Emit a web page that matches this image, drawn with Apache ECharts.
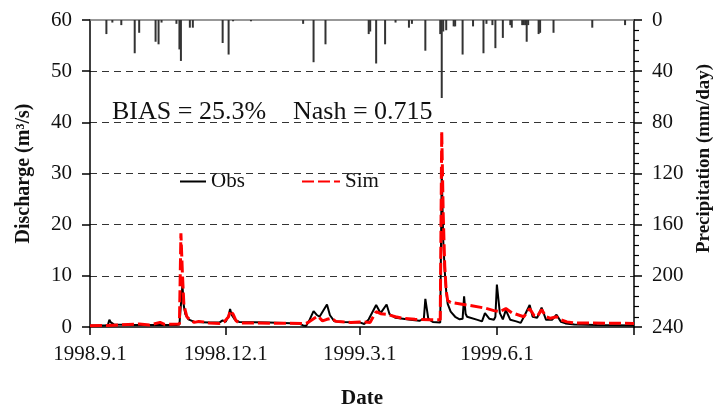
<!DOCTYPE html>
<html>
<head>
<meta charset="utf-8">
<script src="https://cdn.jsdelivr.net/npm/echarts@6/dist/echarts.min.js"></script>
<style>
html,body{margin:0;padding:0;background:#fff;}
#c{width:719px;height:410px;}
</style>
</head>
<body>
<div id="c"></div>
<script>
// ---- data ----
const xTickDates = ['1998-09-01','1998-12-01','1999-03-01','1999-06-01','1999-09-01'];
const xLabelDates = ['1998-09-01','1998-12-01','1999-03-01','1999-06-01'];

const obs = [
 ['1998-09-01',0.3],['1998-09-11',0.3],['1998-09-13',0.4],['1998-09-14',1.4],['1998-09-15',0.9],
 ['1998-09-17',0.5],['1998-10-01',0.4],['1998-10-16',0.4],['1998-10-29',0.4],['1998-10-31',0.5],
 ['1998-11-01',0.6],['1998-11-02',8.2],['1998-11-03',4.0],['1998-11-04',2.5],['1998-11-06',1.5],
 ['1998-11-10',1.0],['1998-11-20',0.9],['1998-11-27',0.9],['1998-11-29',1.3],['1998-12-01',1.0],
 ['1998-12-03',2.2],['1998-12-04',3.5],['1998-12-05',2.4],['1998-12-07',1.5],['1998-12-10',1.0],
 ['1998-12-30',0.9],['1999-01-19',0.7],['1999-01-22',0.3],['1999-01-24',0.2],['1999-01-26',1.2],
 ['1999-01-29',3.1],['1999-01-31',2.4],['1999-02-02',2.0],['1999-02-07',4.4],['1999-02-09',2.3],
 ['1999-02-12',1.1],['1999-02-18',1.0],['1999-03-01',0.9],['1999-03-04',0.6],['1999-03-07',1.5],
 ['1999-03-12',4.3],['1999-03-15',2.7],['1999-03-19',4.4],['1999-03-21',2.5],['1999-03-25',1.8],
 ['1999-04-04',1.4],['1999-04-10',1.2],['1999-04-13',1.6],['1999-04-14',5.5],['1999-04-16',1.6],
 ['1999-04-19',1.0],['1999-04-24',0.9],['1999-04-25',30.5],['1999-04-26',17],['1999-04-27',11],
 ['1999-04-28',7],['1999-04-29',4.5],['1999-05-01',3.0],['1999-05-04',2.0],['1999-05-07',1.5],
 ['1999-05-09',1.6],['1999-05-10',6.0],['1999-05-11',2.6],['1999-05-12',2.0],['1999-05-19',1.4],
 ['1999-05-22',1.1],['1999-05-24',2.7],['1999-05-27',1.6],['1999-05-30',1.4],['1999-05-31',2.0],
 ['1999-06-01',8.3],['1999-06-03',2.7],['1999-06-05',1.5],['1999-06-07',3.3],['1999-06-10',1.4],
 ['1999-06-14',1.1],['1999-06-17',0.8],['1999-06-20',2.5],['1999-06-23',4.3],['1999-06-25',2.0],
 ['1999-06-28',1.8],['1999-07-01',3.8],['1999-07-04',1.4],['1999-07-08',1.4],['1999-07-11',2.4],
 ['1999-07-14',1.0],['1999-07-17',0.7],['1999-07-23',0.5],['1999-08-07',0.4],['1999-09-01',0.3]
];

const sim = [
 ['1998-09-01',0.25],['1998-09-13',0.3],['1998-10-04',0.6],['1998-10-11',0.4],['1998-10-18',0.9],
 ['1998-10-21',0.5],['1998-10-31',0.6],['1998-11-01',18.3],['1998-11-02',10.5],['1998-11-03',4.3],
 ['1998-11-05',2.0],['1998-11-07',1.4],['1998-11-10',0.9],['1998-11-13',1.1],['1998-11-16',1.0],
 ['1998-11-20',0.8],['1998-11-27',0.7],['1998-11-30',1.0],['1998-12-03',2.0],['1998-12-04',3.2],
 ['1998-12-06',2.5],['1998-12-08',1.2],['1998-12-10',0.8],['1999-01-24',0.7],['1999-01-26',1.0],
 ['1999-01-30',1.8],['1999-02-01',2.1],['1999-02-04',1.2],['1999-02-07',1.5],['1999-02-10',1.7],
 ['1999-02-13',1.1],['1999-02-23',0.9],['1999-03-01',1.0],['1999-03-08',0.9],['1999-03-10',2.0],
 ['1999-03-12',3.0],['1999-03-15',2.6],['1999-03-19',2.5],['1999-03-25',2.0],['1999-03-30',1.7],
 ['1999-04-07',1.5],['1999-04-17',1.4],['1999-04-24',1.4],['1999-04-25',38.2],['1999-04-26',22],
 ['1999-04-27',12],['1999-04-28',7],['1999-04-29',5.2],['1999-05-01',4.8],['1999-05-14',4.2],
 ['1999-05-24',3.7],['1999-05-30',3.2],['1999-06-03',3.0],['1999-06-07',3.6],['1999-06-11',2.8],
 ['1999-06-16',2.3],['1999-06-19',2.0],['1999-06-23',3.6],['1999-06-26',2.2],['1999-06-28',2.0],
 ['1999-07-01',3.4],['1999-07-04',2.0],['1999-07-07',1.7],['1999-07-11',2.0],['1999-07-14',1.4],
 ['1999-07-18',1.0],['1999-07-23',0.8],['1999-09-01',0.7]
];

const precip = [
 ['1998-09-12',11],['1998-09-16',2],['1998-09-22',4],['1998-10-01',26],['1998-10-04',10],
 ['1998-10-15',17],['1998-10-17',19],['1998-10-19',2],['1998-10-29',3],['1998-10-31',23],
 ['1998-11-01',32],['1998-11-07',6],['1998-11-09',6],['1998-11-29',18],['1998-12-03',27],
 ['1998-12-06',1],['1998-12-18',1],['1999-01-22',3],['1999-01-29',33],['1999-02-06',19],
 ['1999-03-07',11],['1999-03-08',9],['1999-03-12',34],['1999-03-18',19],['1999-03-25',2],
 ['1999-04-03',6],['1999-04-05',3],['1999-04-14',24],['1999-04-24',11],['1999-04-25',61],
 ['1999-04-26',9],['1999-04-28',8],['1999-05-03',5],['1999-05-04',5],['1999-05-09',27],
 ['1999-05-16',5],['1999-05-23',26],['1999-05-25',3],['1999-05-29',4],['1999-05-31',22],
 ['1999-06-05',14],['1999-06-10',4],['1999-06-11',6],['1999-06-18',4],['1999-06-19',4],
 ['1999-06-20',4],['1999-06-21',17],['1999-06-22',4],['1999-06-29',11],['1999-06-30',10],
 ['1999-07-09',10],['1999-08-04',6],['1999-08-26',4]
];

const statsBias = 'BIAS = 25.3%';
const statsNash = 'Nash = 0.715';

// ---- helpers ----
function ts(s){ const p = s.split('-').map(Number); return new Date(p[0], p[1]-1, p[2]).getTime(); }
function toPts(arr){ return arr.map(d => [ts(d[0]), d[1]]); }
function fmt(v){ const d = new Date(v); return d.getFullYear() + '.' + (d.getMonth()+1) + '.' + d.getDate(); }

const FONT = "'Liberation Serif','Times New Roman',serif";
const TXT = '#111';
const xMin = ts(xTickDates[0]);
const xMax = ts(xTickDates[xTickDates.length-1]);
const legendText = {fontFamily: FONT, fontSize: 21, color: TXT};

const chart = echarts.init(document.getElementById('c'), null, {renderer:'canvas'});
chart.setOption({
  animation: false,
  backgroundColor: '#fff',
  grid: {left: 90, right: 85, top: 20, bottom: 83, containLabel: false, outerBoundsMode: 'none'},
  legend: [{
    data: ['Obs'], left: 174, top: 166, itemWidth: 26, itemHeight: 14,
    itemStyle: {opacity: 0}, textStyle: legendText
  },{
    data: ['Sim'], left: 296, top: 166, itemWidth: 38, itemHeight: 14,
    itemStyle: {opacity: 0}, textStyle: legendText
  }],
  xAxis: [{
    type: 'value', min: xMin, max: xMax,
    name: 'Date', nameLocation: 'middle', nameGap: 61,
    nameTextStyle: {fontFamily: FONT, fontSize: 21, fontWeight: 'bold', color: TXT},
    axisLine: {lineStyle: {color: '#000', width: 1.5}},
    axisTick: {show: true, length: 8, lineStyle: {color: '#000', width: 1.5}, customValues: xTickDates.map(ts)},
    axisLabel: {fontFamily: FONT, fontSize: 21, color: TXT, margin: 17, formatter: fmt, customValues: xLabelDates.map(ts)},
    splitLine: {show: false}
  },{
    type: 'value', position: 'top', min: xMin, max: xMax,
    axisLine: {show: true, lineStyle: {color: '#777', width: 1.5}},
    axisTick: {show: false}, axisLabel: {show: false}, splitLine: {show: false}
  }],
  yAxis: [{
    type: 'value', min: 0, max: 60, interval: 10,
    name: 'Discharge (m³/s)', nameLocation: 'middle', nameGap: 56,
    nameTextStyle: {fontFamily: FONT, fontSize: 20, fontWeight: 'bold', color: TXT},
    axisLine: {show: true, lineStyle: {color: '#000', width: 1.5}},
    axisTick: {show: true, length: 8, lineStyle: {color: '#000', width: 1.5}},
    axisLabel: {fontFamily: FONT, fontSize: 21, color: TXT, margin: 18},
    splitLine: {show: true, showMinLine: false, showMaxLine: false,
      lineStyle: {color: '#333', width: 1.2, type: [7,5]}}
  },{
    type: 'value', min: 0, max: 240, interval: 40, inverse: true, position: 'right',
    name: 'Precipitation (mm/day)', nameLocation: 'middle', nameGap: 58,
    nameTextStyle: {fontFamily: FONT, fontSize: 19, fontWeight: 'bold', color: TXT, padding: [0,0,0,30]},
    axisLine: {show: true, lineStyle: {color: '#000', width: 1.5}},
    axisTick: {show: true, length: 8, lineStyle: {color: '#000', width: 1.5}},
    minorTick: {show: true, splitNumber: 5, length: 5, lineStyle: {color: '#000', width: 1.2}},
    axisLabel: {fontFamily: FONT, fontSize: 21, color: TXT, margin: 18},
    splitLine: {show: false}
  }],
  series: [{
    name: 'Precip', type: 'bar', xAxisIndex: 0, yAxisIndex: 1,
    data: toPts(precip), barWidth: 2,
    itemStyle: {color: '#333'}, silent: true
  },{
    name: 'Obs', type: 'line', xAxisIndex: 0, yAxisIndex: 0,
    data: toPts(obs), showSymbol: false, symbol: 'none',
    lineStyle: {color: '#000', width: 2}, itemStyle: {color: '#000'}, z: 3
  },{
    name: 'Sim', type: 'line', xAxisIndex: 0, yAxisIndex: 0,
    data: toPts(sim), showSymbol: false, symbol: 'none',
    lineStyle: {color: '#ff0000', width: 3, type: [12,4]}, itemStyle: {color: '#ff0000'}, z: 4
  }],
  graphic: [
    {type: 'text', left: 112, top: 99, style: {text: statsBias, font: "26px " + FONT, fill: TXT}},
    {type: 'text', left: 293, top: 99, style: {text: statsNash, font: "26px " + FONT, fill: TXT}}
  ]
});
</script>
</body>
</html>
